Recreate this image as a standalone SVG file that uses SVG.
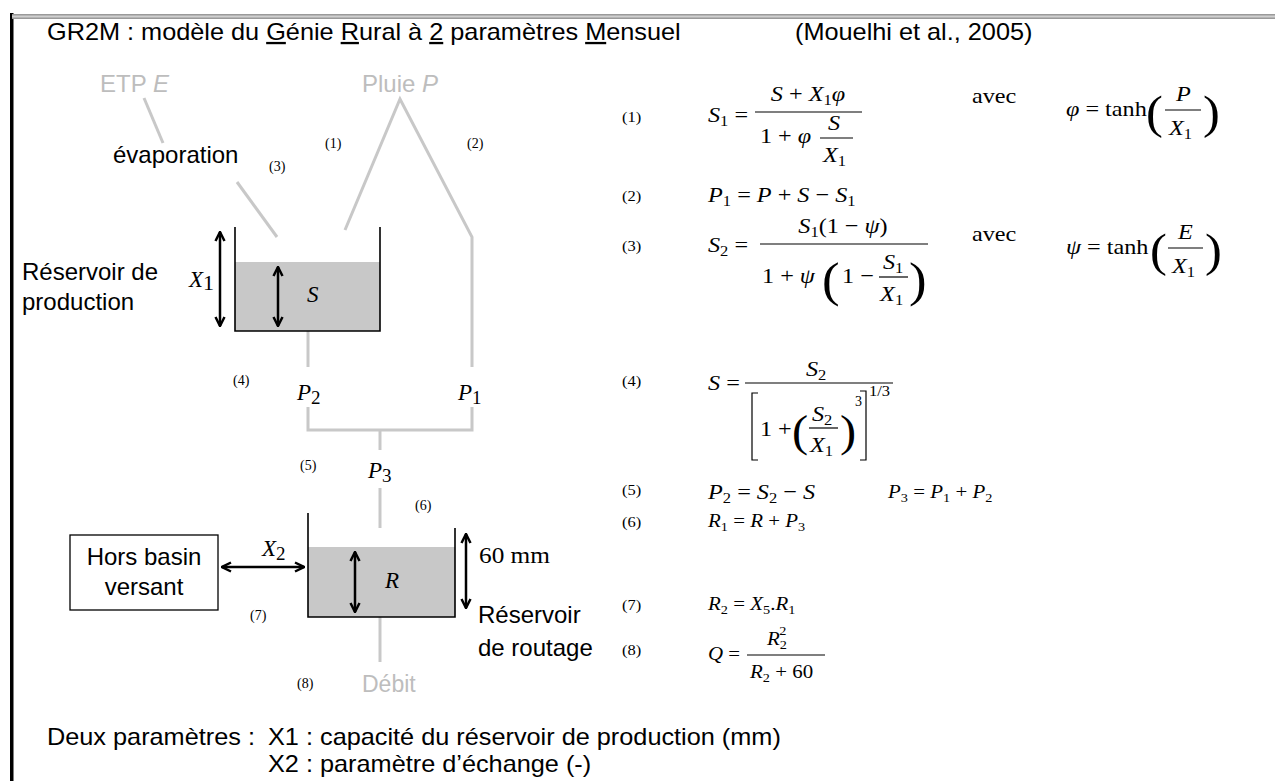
<svg xmlns="http://www.w3.org/2000/svg" width="1275" height="781" viewBox="0 0 1275 781">
<defs>
<style>
.sans{font-family:"Liberation Sans",Arial,sans-serif;fill:#000}
.lbl{font-size:24px}
.big{font-size:23px}
.gray{fill:#bdbdbd}
.ser{font-family:"Liberation Serif","Times New Roman",serif;fill:#000}
.it{font-style:italic}
.num{font-size:14px}
.enum{font-size:15px}
.eq{font-size:22px}
.eqs{font-size:19px}
.st{transform-box:fill-box;transform-origin:0 0;transform:scaleX(1.1)}
.stc{transform-box:fill-box;transform-origin:50% 0;transform:scaleX(1.1)}
.gl{stroke:#c8c8c8;stroke-width:3;fill:none}
.wall{stroke:#000;stroke-width:1.6;fill:none}
.water{fill:#c8c8c8}
.arr{stroke:#000;stroke-width:2.5;fill:none;marker-start:url(#ah);marker-end:url(#ah)}
.bar{stroke:#000;stroke-width:1.2}
.u{text-decoration:underline}
</style>
<marker id="ah" viewBox="0 0 10 10" refX="9" refY="5" markerWidth="4.5" markerHeight="4.5" orient="auto-start-reverse" markerUnits="strokeWidth">
<path d="M1,1 L9,5 L1,9" fill="none" stroke="#000" stroke-width="2.2"/>
</marker>
</defs>
<rect width="1275" height="781" fill="#fff"/>
<!-- frame -->
<rect x="10" y="13" width="3.5" height="768" fill="#000"/>
<rect x="12" y="14" width="1263" height="5" fill="#9a9a9a"/>
<rect x="12" y="15.5" width="1263" height="2" fill="#d0d0d0"/>
<!-- title -->
<g id="title">
<text class="sans big st" x="47" y="40">GR2M : modèle du <tspan class="u">G</tspan>énie <tspan class="u">R</tspan>ural à <tspan class="u">2</tspan> paramètres <tspan class="u">M</tspan>ensuel</text>
<text class="sans big st" x="795" y="40">(Mouelhi et al., 2005)</text>
</g>
<!-- connectors -->
<g id="connectors">
<line class="gl" x1="144" y1="98" x2="163" y2="143"/>
<line class="gl" x1="237" y1="182" x2="277" y2="237"/>
<polyline class="gl" points="345,230 400,99 472,237 472,367"/>
<line class="gl" x1="308" y1="331" x2="308" y2="367"/>
<path class="gl" d="M308,407 L308,430 L472,430 L472,407" stroke-width="4"/>
<line class="gl" x1="380" y1="430" x2="380" y2="450"/>
<line class="gl" x1="380" y1="488" x2="380" y2="528"/>
<line class="gl" x1="380" y1="617" x2="380" y2="662"/>
<line class="arr" x1="222" y1="567" x2="304" y2="567"/>
</g>
<!-- inputs -->
<g id="etp">
<text class="sans lbl gray" x="100" y="92">ETP <tspan class="it">E</tspan></text>
</g>
<g id="pluie">
<text class="sans lbl gray" x="362" y="92">Pluie <tspan class="it">P</tspan></text>
</g>
<g id="evaporation">
<text class="sans lbl" x="113" y="163">évaporation</text>
</g>
<g id="labels-nums">
<text class="ser num" x="269" y="171">(3)</text>
<text class="ser num" x="325" y="148">(1)</text>
<text class="ser num" x="467" y="148">(2)</text>
<text class="ser num" x="233" y="385">(4)</text>
<text class="ser num" x="300" y="470">(5)</text>
<text class="ser num" x="415" y="510">(6)</text>
<text class="ser num" x="250" y="620">(7)</text>
<text class="ser num" x="297" y="688">(8)</text>
</g>
<!-- production reservoir -->
<g id="reservoir-production">
<rect class="water" x="235" y="262" width="145" height="69"/>
<polyline class="wall" points="235,227 235,331 380,331 380,227"/>
<line class="arr" x1="220" y1="232" x2="220" y2="326"/>
<line class="arr" x1="278" y1="267" x2="278" y2="326"/>
<text class="ser it" font-size="23" x="307" y="302">S</text>
<text class="ser it" font-size="23" x="189" y="287">X<tspan font-size="22" dy="3" font-style="normal">1</tspan></text>
<text class="sans lbl" x="22" y="280">Réservoir de</text>
<text class="sans lbl" x="22" y="310">production</text>
</g>
<g id="p2"><text class="ser it" font-size="23" x="297" y="400">P<tspan dy="4" font-style="normal" font-size="19">2</tspan></text></g>
<g id="p1"><text class="ser it" font-size="23" x="458" y="400">P<tspan dy="4" font-style="normal" font-size="19">1</tspan></text></g>
<g id="p3"><text class="ser it" font-size="23" x="368" y="478">P<tspan dy="4" font-style="normal" font-size="19">3</tspan></text></g>
<!-- routing reservoir -->
<g id="reservoir-routage">
<rect class="water" x="308" y="547" width="147" height="70"/>
<polyline class="wall" points="308,513 308,617 455,617 455,528"/>
<line class="arr" x1="355" y1="552" x2="355" y2="612"/>
<text class="ser it" font-size="23" x="385" y="588">R</text>
<line class="arr" x1="466" y1="534" x2="466" y2="608"/>
<text class="ser st" font-size="23" x="479" y="563">60 mm</text>
<text class="sans lbl" x="478" y="623">Réservoir</text>
<text class="sans lbl" x="478" y="656">de routage</text>
</g>
<g id="hors-basin">
<rect x="70" y="535" width="148" height="75" fill="#fff" stroke="#000" stroke-width="1.3"/>
<text class="sans lbl" x="144" y="565" text-anchor="middle">Hors basin</text>
<text class="sans lbl" x="144" y="595" text-anchor="middle">versant</text>
</g>
<g id="x2"><text class="ser it" font-size="23" x="262" y="556">X<tspan dy="4" font-style="normal" font-size="19">2</tspan></text></g>
<g id="debit"><text class="sans gray" font-size="23" x="362" y="692">Débit</text></g>
<!-- params -->
<g id="params">
<text class="sans big st" x="47" y="745">Deux paramètres :</text>
<text class="sans big st" x="268" y="745">X1 : capacité du réservoir de production (mm)</text>
<text class="sans big st" x="268" y="772">X2 : paramètre d’échange (-)</text>
</g>
<!-- equations -->
<g id="eq1">
<text class="ser enum st" x="622" y="122">(1)</text>
<text class="ser eq st" x="708" y="122"><tspan class="it">S</tspan><tspan font-size="15" dy="4">1</tspan><tspan dy="-4"> =</tspan></text>
<text class="ser eq stc" x="808" y="101" text-anchor="middle"><tspan class="it">S</tspan> + <tspan class="it">X</tspan><tspan font-size="15" dy="4">1</tspan><tspan class="it" dy="-4">φ</tspan></text>
<line class="bar" x1="755" y1="112" x2="862" y2="112"/>
<text class="ser eq st" x="760" y="143">1 + <tspan class="it">φ</tspan></text>
<text class="ser eq it st" x="828" y="130">S</text>
<line class="bar" x1="820" y1="138" x2="853" y2="138"/>
<text class="ser eq st" x="823" y="162"><tspan class="it">X</tspan><tspan font-size="15" dy="4">1</tspan></text>
<text class="ser eq st" x="972" y="103">avec</text>
<text class="ser eq st" x="1066" y="116"><tspan class="it">φ</tspan> = tanh</text>
<text class="ser st" font-size="46" x="1146" y="128">(</text>
<text class="ser eq it st" x="1176" y="101">P</text>
<line class="bar" x1="1165" y1="110" x2="1201" y2="110"/>
<text class="ser eq st" x="1169" y="135"><tspan class="it">X</tspan><tspan font-size="15" dy="4">1</tspan></text>
<text class="ser st" font-size="46" x="1203" y="128">)</text>
</g>
<g id="eq2">
<text class="ser enum st" x="622" y="201">(2)</text>
<text class="ser eq st" x="708" y="202"><tspan class="it">P</tspan><tspan font-size="15" dy="4">1</tspan><tspan dy="-4"> = </tspan><tspan class="it">P</tspan> + <tspan class="it">S</tspan> − <tspan class="it">S</tspan><tspan font-size="15" dy="4">1</tspan></text>
</g>
<g id="eq3">
<text class="ser enum st" x="622" y="251">(3)</text>
<text class="ser eq st" x="708" y="252"><tspan class="it">S</tspan><tspan font-size="15" dy="4">2</tspan><tspan dy="-4"> =</tspan></text>
<text class="ser eq stc" x="843" y="233" text-anchor="middle"><tspan class="it">S</tspan><tspan font-size="15" dy="4">1</tspan><tspan dy="-4">(1 − </tspan><tspan class="it">ψ</tspan>)</text>
<line class="bar" x1="760" y1="244" x2="928" y2="244"/>
<text class="ser eq st" x="762" y="283">1 + <tspan class="it">ψ</tspan></text>
<text class="ser st" font-size="48" x="822" y="296">(</text>
<text class="ser eq st" x="842" y="283">1 −</text>
<text class="ser eq st" x="883" y="269"><tspan class="it">S</tspan><tspan font-size="15" dy="4">1</tspan></text>
<line class="bar" x1="879" y1="277" x2="908" y2="277"/>
<text class="ser eq st" x="880" y="301"><tspan class="it">X</tspan><tspan font-size="15" dy="4">1</tspan></text>
<text class="ser st" font-size="48" x="909" y="296">)</text>
<text class="ser eq st" x="972" y="241">avec</text>
<text class="ser eq st" x="1066" y="254"><tspan class="it">ψ</tspan> = tanh</text>
<text class="ser st" font-size="46" x="1150" y="266">(</text>
<text class="ser eq it st" x="1178" y="239">E</text>
<line class="bar" x1="1168" y1="248" x2="1203" y2="248"/>
<text class="ser eq st" x="1172" y="273"><tspan class="it">X</tspan><tspan font-size="15" dy="4">1</tspan></text>
<text class="ser st" font-size="46" x="1205" y="266">)</text>
</g>
<g id="eq4">
<text class="ser enum st" x="622" y="386">(4)</text>
<text class="ser eq st" x="708" y="390"><tspan class="it">S</tspan> =</text>
<text class="ser eq st" x="806" y="376"><tspan class="it">S</tspan><tspan font-size="15" dy="4">2</tspan></text>
<line class="bar" x1="745" y1="383" x2="893" y2="383"/>
<path d="M758,393 L752,393 L752,460 L758,460 M860,391 L866,391 L866,460 L860,460" stroke="#000" stroke-width="1.2" fill="none"/>
<text class="ser eq st" x="760" y="436">1 +</text>
<text class="ser st" font-size="44" x="792" y="446">(</text>
<text class="ser eq st" x="812" y="421"><tspan class="it">S</tspan><tspan font-size="15" dy="4">2</tspan></text>
<line class="bar" x1="809" y1="428" x2="838" y2="428"/>
<text class="ser eq st" x="810" y="452"><tspan class="it">X</tspan><tspan font-size="15" dy="4">1</tspan></text>
<text class="ser st" font-size="44" x="840" y="446">)</text>
<text class="ser" font-size="14" x="855" y="406">3</text>
<text class="ser st" font-size="15" x="869" y="396">1/3</text>
</g>
<g id="eq5">
<text class="ser enum st" x="622" y="495">(5)</text>
<text class="ser eq st" x="708" y="499"><tspan class="it">P</tspan><tspan font-size="15" dy="4">2</tspan><tspan dy="-4"> = </tspan><tspan class="it">S</tspan><tspan font-size="15" dy="4">2</tspan><tspan dy="-4"> − </tspan><tspan class="it">S</tspan></text>
<text class="ser eqs st" x="888" y="498"><tspan class="it">P</tspan><tspan font-size="13" dy="4">3</tspan><tspan dy="-4"> = </tspan><tspan class="it">P</tspan><tspan font-size="13" dy="4">1</tspan><tspan dy="-4"> + </tspan><tspan class="it">P</tspan><tspan font-size="13" dy="4">2</tspan></text>
</g>
<g id="eq6">
<text class="ser enum st" x="622" y="527">(6)</text>
<text class="ser eqs st" x="708" y="527"><tspan class="it">R</tspan><tspan font-size="13" dy="4">1</tspan><tspan dy="-4"> = </tspan><tspan class="it">R</tspan> + <tspan class="it">P</tspan><tspan font-size="13" dy="4">3</tspan></text>
</g>
<g id="eq7">
<text class="ser enum st" x="622" y="610">(7)</text>
<text class="ser eqs st" x="708" y="610"><tspan class="it">R</tspan><tspan font-size="13" dy="4">2</tspan><tspan dy="-4"> = </tspan><tspan class="it">X</tspan><tspan font-size="13" dy="4">5</tspan><tspan dy="-4">.</tspan><tspan class="it">R</tspan><tspan font-size="13" dy="4">1</tspan></text>
</g>
<g id="eq8">
<text class="ser enum st" x="622" y="655">(8)</text>
<text class="ser eqs st" x="708" y="660"><tspan class="it">Q</tspan> =</text>
<text class="ser eqs st" x="767" y="645"><tspan class="it">R</tspan><tspan font-size="13" dy="4">2</tspan><tspan font-size="13" dx="-7" dy="-14">2</tspan></text>
<line class="bar" x1="747" y1="655" x2="825" y2="655"/>
<text class="ser eqs st" x="750" y="678"><tspan class="it">R</tspan><tspan font-size="13" dy="4">2</tspan><tspan dy="-4"> + 60</tspan></text>
</g>
</svg>
